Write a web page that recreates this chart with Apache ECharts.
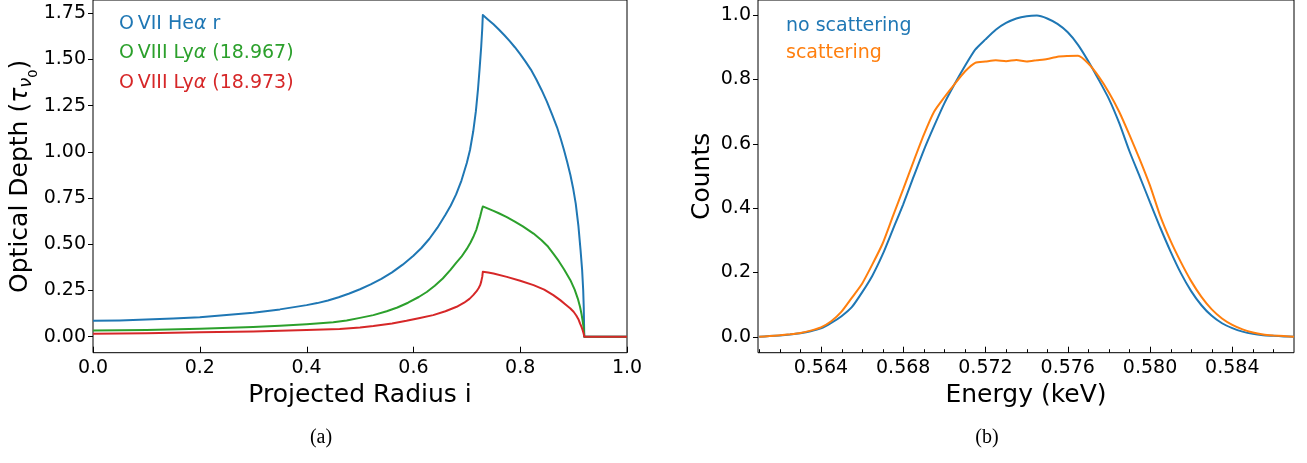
<!DOCTYPE html>
<html>
<head>
<meta charset="utf-8">
<script src="https://cdn.jsdelivr.net/npm/echarts@6/dist/echarts.min.js"></script>
<style>
html,body{margin:0;padding:0;background:#fff;}
#chart{width:1307px;height:463px;}
</style>
</head>
<body>
<div id="chart"></div>
<script>
// ---------- Panel (a): optical depth vs projected radius ----------
const heName = 'O\u2009VII Heα r';
const ly967Name = 'O\u2009VIII Lyα (18.967)';
const ly973Name = 'O\u2009VIII Lyα (18.973)';

const heRadius = [0.00,0.05,0.10,0.15,0.20,0.25,0.30,0.35,0.40,0.42,0.44,0.46,0.48,0.50,0.52,0.54,0.56,0.58,0.60,0.615,0.63,0.645,0.66,0.67,0.68,0.69,0.70,0.706,0.712,0.717,0.721,0.724,0.727,0.729,0.730,0.740,0.750,0.760,0.770,0.780,0.790,0.800,0.810,0.820,0.830,0.840,0.850,0.860,0.869,0.876,0.882,0.888,0.894,0.899,0.904,0.909,0.913,0.916,0.918,0.919,0.920,1.000];
const heDepth  = [0.086,0.088,0.093,0.099,0.106,0.117,0.130,0.148,0.171,0.182,0.196,0.214,0.234,0.257,0.283,0.313,0.348,0.390,0.438,0.480,0.530,0.590,0.660,0.710,0.770,0.845,0.940,1.010,1.110,1.220,1.340,1.450,1.570,1.670,1.740,1.715,1.690,1.662,1.632,1.600,1.566,1.529,1.488,1.445,1.393,1.335,1.272,1.200,1.133,1.070,1.010,0.945,0.875,0.805,0.720,0.600,0.470,0.360,0.250,0.160,0.000,0.000];

const ly967Radius = [0.00,0.10,0.20,0.30,0.35,0.40,0.45,0.475,0.50,0.525,0.55,0.57,0.59,0.61,0.625,0.64,0.655,0.669,0.68,0.69,0.70,0.707,0.713,0.718,0.722,0.725,0.728,0.730,0.740,0.750,0.760,0.775,0.790,0.805,0.825,0.840,0.852,0.862,0.872,0.882,0.894,0.902,0.908,0.912,0.915,0.917,0.919,0.920,1.000];
const ly967Depth  = [0.034,0.037,0.043,0.053,0.060,0.068,0.078,0.088,0.102,0.117,0.138,0.158,0.184,0.215,0.242,0.276,0.315,0.360,0.400,0.433,0.475,0.510,0.545,0.580,0.620,0.650,0.685,0.705,0.693,0.681,0.668,0.647,0.623,0.597,0.558,0.522,0.488,0.450,0.410,0.365,0.306,0.255,0.205,0.162,0.120,0.085,0.045,0.000,0.000];

const ly973Radius = [0.00,0.10,0.20,0.30,0.40,0.462,0.50,0.525,0.56,0.587,0.61,0.637,0.66,0.681,0.695,0.705,0.712,0.718,0.722,0.725,0.727,0.729,0.730,0.740,0.750,0.775,0.800,0.825,0.845,0.862,0.875,0.886,0.894,0.900,0.905,0.909,0.912,0.915,0.917,0.919,0.920,1.000];
const ly973Depth  = [0.016,0.019,0.024,0.029,0.036,0.042,0.050,0.058,0.072,0.086,0.100,0.117,0.138,0.162,0.184,0.205,0.225,0.245,0.262,0.279,0.298,0.325,0.351,0.347,0.342,0.324,0.303,0.279,0.255,0.225,0.198,0.172,0.153,0.135,0.115,0.095,0.072,0.052,0.035,0.015,0.000,0.000];

const radiusTicks = [0,0.2,0.4,0.6,0.8,1.0];
const depthTicks = [0,0.25,0.5,0.75,1.0,1.25,1.5,1.75];

// ---------- Panel (b): counts vs energy ----------
const noScatName = 'no scattering';
const scatName = 'scattering';
const energy = [0.5610,0.5615,0.5620,0.5625,0.5630,0.5635,0.5640,0.5645,0.5650,0.5655,0.5660,0.5665,0.5670,0.5675,0.5680,0.5685,0.5690,0.5695,0.5700,0.5705,0.5710,0.5715,0.5720,0.5725,0.5730,0.5735,0.5740,0.5745,0.5750,0.5755,0.5760,0.5765,0.5770,0.5775,0.5780,0.5785,0.5790,0.5795,0.5800,0.5805,0.5810,0.5815,0.5820,0.5825,0.5830,0.5835,0.5840,0.5845,0.5850,0.5855,0.5860,0.5865,0.5870];
const noScatCounts = [0.000,0.002,0.004,0.007,0.011,0.017,0.026,0.043,0.064,0.092,0.138,0.190,0.256,0.334,0.412,0.497,0.580,0.655,0.726,0.786,0.842,0.893,0.925,0.955,0.976,0.990,0.997,0.999,0.990,0.973,0.947,0.908,0.857,0.800,0.740,0.665,0.577,0.498,0.418,0.339,0.265,0.198,0.142,0.098,0.065,0.042,0.027,0.016,0.009,0.005,0.003,0.001,0.000];
const scatCounts   = [0.000,0.002,0.005,0.008,0.012,0.019,0.029,0.048,0.078,0.121,0.165,0.225,0.290,0.375,0.459,0.545,0.628,0.700,0.745,0.786,0.825,0.852,0.856,0.860,0.857,0.861,0.856,0.860,0.864,0.871,0.873,0.874,0.850,0.810,0.760,0.700,0.628,0.552,0.470,0.375,0.298,0.232,0.173,0.124,0.085,0.057,0.037,0.023,0.013,0.007,0.004,0.002,0.000];

const energyTicks = [0.564,0.568,0.572,0.576,0.580,0.584];
const energyMinorTicks = [0.561,0.562,0.563,0.565,0.566,0.567,0.569,0.570,0.571,0.573,0.574,0.575,0.577,0.578,0.579,0.581,0.582,0.583,0.585,0.586];
const countTicks = [0,0.2,0.4,0.6,0.8,1.0];

// axis extents
const radiusMin = 0, radiusMax = 1;
const depthMin = -0.0863, depthMax = 1.8215;
const energyMin = 0.56094, energyMax = 0.58700;
const countMin = -0.0496, countMax = 1.0474;

const C = {blue:'#1f77b4', orange:'#ff7f0e', green:'#2ca02c', red:'#d62728'};
const FONT = 'DejaVu Sans';

function pairs(xs, ys){ return xs.map((x,i)=>[x, ys[i]]); }

const chart = echarts.init(document.getElementById('chart'), null, {renderer:'canvas'});

const tickLabel = {fontFamily:FONT, fontSize:19, color:'#000'};
const nameStyle = {fontFamily:FONT, fontSize:25, color:'#000'};
function noLine(){ return {show:false, onZero:false}; }

// inward x-axis tick marks, placed through the axis scales
function xTickSeries(axisIdx, values, yBase, len){
  return {type:'custom', xAxisIndex:axisIdx, yAxisIndex:axisIdx, silent:true, z:5, clip:false,
    data: values.map(v=>[v, yBase]),
    renderItem:function(params, api){
      const p = api.coord([api.value(0), api.value(1)]);
      const x = Math.round(p[0]) + 0.5;
      return {type:'line', shape:{x1:x, y1:p[1], x2:x, y2:p[1]-len}, style:{stroke:'#000', lineWidth:1}};
    }};
}

const legendKey = {};
legendKey[heName] = 'b'; legendKey[ly967Name] = 'g'; legendKey[ly973Name] = 'r';

const option = {
  animation:false,
  backgroundColor:'#fff',
  grid:[
    {left:93, top:-1, width:534, height:353.7, show:true, backgroundColor:'transparent', borderColor:'#000', borderWidth:1, containLabel:false},
    {left:758, top:-1, width:536, height:353.7, show:true, backgroundColor:'transparent', borderColor:'#000', borderWidth:1, containLabel:false}
  ],
  xAxis:[
    {gridIndex:0, type:'value', min:radiusMin, max:radiusMax, interval:0.2, position:'bottom',
     axisLine:noLine(), splitLine:{show:false}, axisTick:{show:false},
     axisLabel:Object.assign({margin:6, customValues:radiusTicks, formatter:v=>v.toFixed(1)}, tickLabel),
     name:'Projected Radius i', nameLocation:'middle', nameGap:29, nameTextStyle:nameStyle},
    {gridIndex:1, type:'value', min:energyMin, max:energyMax, position:'bottom',
     axisLine:noLine(), splitLine:{show:false}, axisTick:{show:false},
     axisLabel:Object.assign({margin:6, customValues:energyTicks, formatter:v=>v.toFixed(3)}, tickLabel),
     name:'Energy (keV)', nameLocation:'middle', nameGap:29, nameTextStyle:nameStyle}
  ],
  yAxis:[
    {gridIndex:0, type:'value', min:depthMin, max:depthMax, position:'left',
     axisLine:noLine(), splitLine:{show:false},
     axisTick:{inside:false, length:5, customValues:depthTicks, lineStyle:{color:'#000', width:1}},
     axisLabel:Object.assign({margin:7, customValues:depthTicks, formatter:v=>v.toFixed(2)}, tickLabel),
     name:'{n|Optical Depth (}{it|τ}{sub|ν}{sub2|0}{n|)}', nameLocation:'middle', nameRotate:90, nameGap:51,
     nameTextStyle:{fontFamily:FONT, fontSize:25, color:'#000',
       rich:{
         n:{fontFamily:FONT, fontSize:25, lineHeight:25, padding:[0,0,7,0], verticalAlign:'bottom', color:'#000'},
         it:{fontFamily:FONT, fontSize:25, lineHeight:25, fontStyle:'italic', padding:[0,0,7,0], verticalAlign:'bottom', color:'#000'},
         sub:{fontFamily:FONT, fontSize:18, lineHeight:18, fontStyle:'italic', padding:[0,0,4,0], verticalAlign:'bottom', color:'#000'},
         sub2:{fontFamily:FONT, fontSize:13, lineHeight:13, padding:[0,0,0,0], verticalAlign:'bottom', color:'#000'}
       }}},
    {gridIndex:1, type:'value', min:countMin, max:countMax, position:'left',
     axisLine:noLine(), splitLine:{show:false},
     axisTick:{inside:false, length:5, customValues:countTicks, lineStyle:{color:'#000', width:1}},
     axisLabel:Object.assign({margin:7, customValues:countTicks, formatter:v=>v.toFixed(1)}, tickLabel),
     name:'Counts', nameLocation:'middle', nameRotate:90, nameGap:43, nameTextStyle:nameStyle}
  ],
  legend:[
    {orient:'vertical', left:109, top:8.7, itemWidth:0, itemHeight:20, itemGap:10, icon:'none',
     selectedMode:false,
     data:[{name:heName},{name:ly967Name},{name:ly973Name}],
     formatter:function(name){
       const k = legendKey[name];
       const parts = name.split('α');
       return '{'+k+'n|'+parts[0]+'}{'+k+'a|α}{'+k+'n|'+parts[1]+'}';
     },
     textStyle:{fontFamily:FONT, fontSize:19, padding:0,
       rich:{
         bn:{fontFamily:FONT, fontSize:19, color:C.blue}, ba:{fontFamily:FONT, fontSize:19, fontStyle:'italic', color:C.blue},
         gn:{fontFamily:FONT, fontSize:19, color:C.green}, ga:{fontFamily:FONT, fontSize:19, fontStyle:'italic', color:C.green},
         rn:{fontFamily:FONT, fontSize:19, color:C.red}, ra:{fontFamily:FONT, fontSize:19, fontStyle:'italic', color:C.red}
       }}},
    {orient:'vertical', left:776, top:11, itemWidth:0, itemHeight:20, itemGap:7.7, icon:'none',
     selectedMode:false,
     data:[{name:noScatName, textStyle:{color:C.blue}},{name:scatName, textStyle:{color:C.orange}}],
     textStyle:{fontFamily:FONT, fontSize:19}}
  ],
  graphic:[
    {type:'text', x:321, y:438, style:{text:'(a)', fontFamily:'Liberation Serif', fontSize:20, fill:'#000', align:'center', verticalAlign:'middle'}},
    {type:'text', x:987, y:438, style:{text:'(b)', fontFamily:'Liberation Serif', fontSize:20, fill:'#000', align:'center', verticalAlign:'middle'}}
  ],
  series:[
    {name:heName, type:'line', xAxisIndex:0, yAxisIndex:0, data:pairs(heRadius, heDepth), showSymbol:false, lineStyle:{color:C.blue, width:2, join:'round'}, itemStyle:{color:C.blue}},
    {name:ly967Name, type:'line', xAxisIndex:0, yAxisIndex:0, data:pairs(ly967Radius, ly967Depth), showSymbol:false, lineStyle:{color:C.green, width:2, join:'round'}, itemStyle:{color:C.green}},
    {name:ly973Name, type:'line', xAxisIndex:0, yAxisIndex:0, data:pairs(ly973Radius, ly973Depth), showSymbol:false, lineStyle:{color:C.red, width:2, join:'round'}, itemStyle:{color:C.red}},
    {name:noScatName, type:'line', xAxisIndex:1, yAxisIndex:1, data:pairs(energy, noScatCounts), showSymbol:false, smooth:0.2, lineStyle:{color:C.blue, width:2}, itemStyle:{color:C.blue}},
    {name:scatName, type:'line', xAxisIndex:1, yAxisIndex:1, data:pairs(energy, scatCounts), showSymbol:false, smooth:0.2, lineStyle:{color:C.orange, width:2}, itemStyle:{color:C.orange}},
    xTickSeries(0, radiusTicks, depthMin, 6),
    xTickSeries(1, energyTicks, countMin, 6),
    xTickSeries(1, energyMinorTicks, countMin, 3.5)
  ]
};
chart.setOption(option);
</script>
</body>
</html>
